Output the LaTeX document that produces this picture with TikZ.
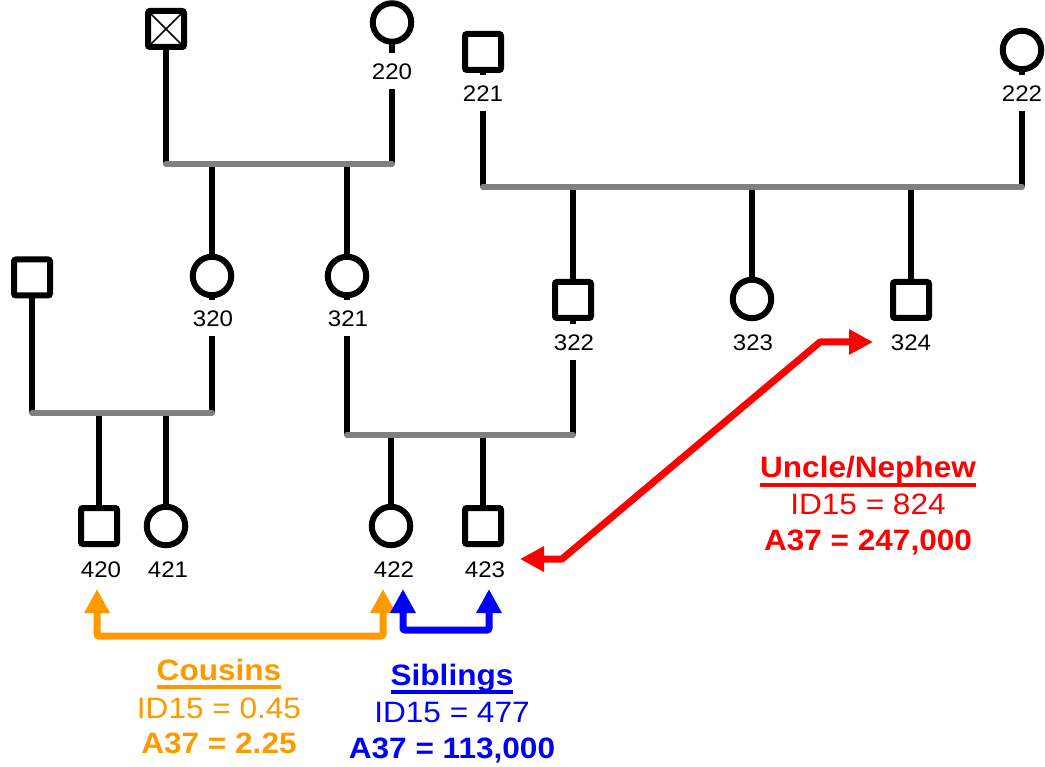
\documentclass[tikz,border=0pt]{standalone}
\usepackage{fontspec}
\setmainfont{Liberation Sans}[FakeStretch=1.07]
\usetikzlibrary{arrows.meta}
\pgfdeclarelayer{bg}
\pgfsetlayers{bg,main}
\definecolor{cor}{RGB}{255,153,0}
\definecolor{cbl}{RGB}{0,0,255}
\definecolor{cre}{RGB}{255,0,0}
\definecolor{cgr}{RGB}{128,128,128}
\newcommand\ulword[1]{\setbox0\hbox{#1}\rlap{\rule[-8.5pt]{\wd0}{3.5pt}}\box0}
\begin{document}
\begin{tikzpicture}[x=1pt,y=-1pt,
 male/.style={draw,line width=6pt,fill=white,rectangle,rounded corners=2pt,minimum size=36pt,inner sep=0pt},
 female/.style={draw,line width=6pt,fill=white,circle,minimum size=38.5pt,inner sep=0pt},
 crossed/.style={path picture={\draw[line width=1.5pt] (path picture bounding box.south west) -- (path picture bounding box.north east) (path picture bounding box.north west) -- (path picture bounding box.south east);}},
 idlab/.style={fill=white,font=\fontsize{22.5}{27}\selectfont,inner xsep=2pt,inner ysep=9.5pt,text height=17pt,text depth=0pt},
 kin/.style={line width=6pt,black},
 mate/.style={line width=6pt,cgr,line cap=round},
 rel/.style={line width=7pt,{Triangle[width=24pt,length=24pt]}-{Triangle[width=24pt,length=24pt]}},
 ttl/.style={anchor=base,font=\fontsize{29.5}{36}\selectfont\bfseries,inner sep=0pt},
 val/.style={anchor=base,font=\fontsize{29.5}{36}\selectfont,inner sep=0pt},
]
\useasboundingbox (0,0) rectangle (1045,767);
% persons
\node[male,crossed] (p210) at (166,29) {};
\node[female] (p220) at (392,22.5) {};
\node[male] (p221) at (483,52) {};
\node[female] (p222) at (1022,50) {};
\node[male] (p310) at (32,277.5) {};
\node[female] (p320) at (212,276) {};
\node[female] (p321) at (347,276) {};
\node[male] (p322) at (573,300) {};
\node[female] (p323) at (752,299) {};
\node[male] (p324) at (911,300) {};
\node[male] (p420) at (99,526) {};
\node[female] (p421) at (166,526) {};
\node[female] (p422) at (391,526) {};
\node[male] (p423) at (483,526) {};
% mating line ends and drops
\coordinate (m1l) at (166,164); \coordinate (m1r) at (392,164);
\coordinate (m2l) at (483,187); \coordinate (m2r) at (1022,187);
\coordinate (m3l) at (32,413);  \coordinate (m3r) at (212,413);
\coordinate (m4l) at (347,435); \coordinate (m4r) at (573,435);
\coordinate (d320) at (212,164); \coordinate (d321) at (347,164);
\coordinate (d322) at (573,187); \coordinate (d323) at (752,187); \coordinate (d324) at (911,187);
\coordinate (d420) at (99,413); \coordinate (d421) at (166,413);
\coordinate (d422) at (391,435); \coordinate (d423) at (483,435);
\begin{pgfonlayer}{bg}
\draw[kin] (p210.center) -- (m1l);
\draw[kin] (p220.center) -- (m1r);
\draw[kin] (p221.center) -- (m2l);
\draw[kin] (p222.center) -- (m2r);
\draw[kin] (p310.center) -- (m3l);
\draw[kin] (d320) -- (m3r);
\draw[kin] (d321) -- (m4l);
\draw[kin] (d322) -- (m4r);
\draw[kin] (d323) -- (p323.center);
\draw[kin] (d324) -- (p324.center);
\draw[kin] (d420) -- (p420.center);
\draw[kin] (d421) -- (p421.center);
\draw[kin] (d422) -- (p422.center);
\draw[kin] (d423) -- (p423.center);
\draw[mate] (m1l) -- (m1r);
\draw[mate] (m2l) -- (m2r);
\draw[mate] (m3l) -- (m3r);
\draw[mate] (m4l) -- (m4r);
\end{pgfonlayer}
% id labels
\node[idlab] (l220) at (392,71) {220};
\node[idlab] (l221) at (483,93) {221};
\node[idlab] (l222) at (1022,93) {222};
\node[idlab] (l320) at (213,318) {320};
\node[idlab] (l321) at (348,318) {321};
\node[idlab] (l322) at (574,342) {322};
\node[idlab] (l323) at (753,342) {323};
\node[idlab] (l324) at (911,342) {324};
\node[idlab] (l420) at (101,569) {420};
\node[idlab] (l421) at (168,569) {421};
\node[idlab] (l422) at (394,569) {422};
\node[idlab] (l423) at (485,569) {423};
% relationship arrows
\coordinate (o1) at (97,589); \coordinate (o2) at (383,589); \coordinate (ob) at (240,636);
\draw[rel,cor,rounded corners=2pt] (o1) |- (ob) -| (o2);
\coordinate (b1) at (403,589); \coordinate (b2) at (489,589); \coordinate (bb) at (446,630);
\draw[rel,cbl,rounded corners=2pt] (b1) |- (bb) -| (b2);
\coordinate (r1) at (520,559); \coordinate (r2) at (562,559); \coordinate (r3) at (820,342); \coordinate (r4) at (873,342);
\draw[rel,cre,line join=round] (r1) -- (r2) -- (r3) -- (r4);
% captions
\node[ttl,cor] (t1) at (219,680) {\ulword{Cousins}};
\node[val,cor] (v1) at (219,718) {ID15 = 0.45};
\node[ttl,cor] (w1) at (219,753) {A37 = 2.25};
\node[ttl,cbl] (t2) at (452,685) {\ulword{Siblings}};
\node[val,cbl] (v2) at (452,722) {ID15 = 477};
\node[ttl,cbl] (w2) at (452,758) {A37 = 113,000};
\node[ttl,cre] (t3) at (868,478) {\ulword{Uncle/Nephew}};
\node[val,cre] (v3) at (868,514) {ID15 = 824};
\node[ttl,cre] (w3) at (868,550) {A37 = 247,000};
\end{tikzpicture}
\end{document}
